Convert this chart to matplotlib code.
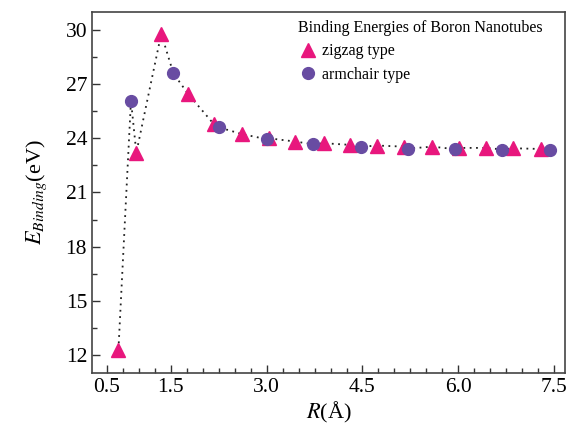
import numpy as np
import matplotlib
matplotlib.use("Agg")
import matplotlib.pyplot as plt
from matplotlib.ticker import MultipleLocator

# Data
zigzag_r = [0.68, 0.96, 1.35, 1.77, 2.17, 2.61, 3.04, 3.45, 3.89, 4.30,
            4.73, 5.15, 5.59, 6.01, 6.44, 6.86, 7.29]
zigzag_e = [12.3, 23.2, 29.8, 26.46, 24.8, 24.24, 24.0, 23.82, 23.73, 23.64,
            23.6, 23.54, 23.54, 23.47, 23.47, 23.45, 23.41]
armchair_r = [0.876, 1.54, 2.26, 3.0, 3.73, 4.47, 5.22, 5.95, 6.69, 7.43]
armchair_e = [26.09, 27.6, 24.6, 23.95, 23.67, 23.53, 23.43, 23.4, 23.38, 23.34]

x_ticks = [0.5, 1.5, 3.0, 4.5, 6.0, 7.5]
y_ticks = [12, 15, 18, 21, 24, 27, 30]

pink = "#E8177D"
purple = "#684CA2"

plt.rcParams["font.family"] = ["Liberation Serif", "DejaVu Serif"]
plt.rcParams["mathtext.fontset"] = "stix"

fig = plt.figure(figsize=(5.71, 4.34), dpi=100)
ax = fig.add_axes([0.161, 0.1406, 0.8285, 0.8318])

# dotted line through all points, sorted by radius
all_r = np.array(zigzag_r + armchair_r)
all_e = np.array(zigzag_e + armchair_e)
order = np.argsort(all_r)
ax.plot(all_r[order], all_e[order], linestyle=(0, (1, 2.5)), color="#222222",
        lw=1.3, zorder=1)

ax.plot(zigzag_r, zigzag_e, "^", color=pink, ms=9.5, mec=pink, ls="none",
        label="zigzag type", zorder=2)
ax.plot(armchair_r, armchair_e, "o", color=purple, ms=8.5, mec=purple, ls="none",
        label="armchair type", zorder=3)

ax.set_xlim(0.265, 7.67)
ax.set_ylim(11.0, 31.0)
ax.set_xticks(x_ticks)
ax.set_xticklabels([f"{v:.1f}" for v in x_ticks])
ax.set_yticks(y_ticks)
ax.xaxis.set_minor_locator(MultipleLocator(0.25))
ax.yaxis.set_minor_locator(MultipleLocator(1.5))
ax.tick_params(which="both", direction="in", top=False, right=False,
               labelsize=15.5, color="#333333")
ax.tick_params(which="major", length=6, width=1)
ax.tick_params(which="minor", length=3.5, width=1)
for s in ax.spines.values():
    s.set_color("#444444")
    s.set_linewidth(1.2)

ax.set_xlabel("$R$(Å)", fontsize=16, labelpad=2)
ax.set_ylabel("$E_{Binding}$(eV)", fontsize=16, labelpad=12)

leg = ax.legend(title="Binding Energies of Boron Nanotubes", loc="upper right",
                bbox_to_anchor=(0.967, 0.995), frameon=False, fontsize=11.5,
                title_fontsize=11.5, handletextpad=0.3, borderaxespad=0,
                labelspacing=0.45, handlelength=1.2, alignment="left")

fig.savefig("out.png", dpi=100)
